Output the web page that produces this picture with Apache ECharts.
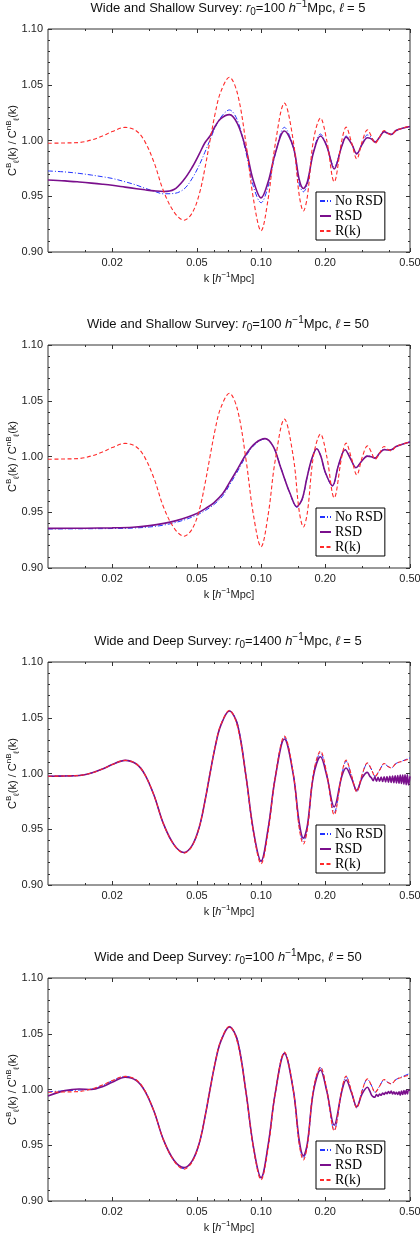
<!DOCTYPE html>
<html>
<head>
<meta charset="utf-8">
<script src="https://cdn.jsdelivr.net/npm/echarts@6/dist/echarts.min.js"></script>
<style>
  html, body { margin: 0; padding: 0; background: #fff; }
  #chart { width: 420px; height: 1236px; }
</style>
</head>
<body>
<div id="chart"></div>
<script>
// k grid shared by R(k) and most of the curves
const kBao = [
  0.0100, 0.0120, 0.0140, 0.0160, 0.0180, 0.0200, 0.0230, 0.0260, 0.0285, 0.0315,
  0.0348, 0.0390, 0.0435, 0.0475, 0.0513, 0.0545, 0.0576, 0.0610, 0.0645, 0.0710,
  0.0775, 0.0850, 0.0920, 0.1000, 0.1080, 0.1164, 0.1287, 0.1418, 0.1510, 0.1580,
  0.1650, 0.1760, 0.1900, 0.2034, 0.2204, 0.2393, 0.2506, 0.2660, 0.2813, 0.2980,
  0.3155, 0.3290, 0.3430, 0.3600, 0.3780, 0.3930, 0.4080, 0.4300, 0.4600, 0.5000
]

// R(k), same in every panel
const rRatio = [
  0.9975, 0.9978, 0.9982, 1.0005, 1.0040, 1.0080, 1.0118, 1.0085, 0.9990, 0.9800,
  0.9550, 0.9360, 0.9285, 0.9350, 0.9520, 0.9750, 1.0000, 1.0250, 1.0430, 1.0567,
  1.0420, 0.9970, 0.9480, 0.9190, 0.9480, 0.9960, 1.0335, 0.9990, 0.9510, 0.9368,
  0.9500, 1.0000, 1.0200, 1.0000, 0.9630, 1.0000, 1.0120, 0.9980, 0.9835, 0.9990,
  1.0095, 1.0040, 0.9975, 1.0030, 1.0090, 1.0065, 1.0050, 1.0090, 1.0110, 1.0130
]

// panel 1: wide and shallow, l = 5
const noRsd1 = [
  0.9727, 0.9718, 0.9705, 0.9690, 0.9675, 0.9660, 0.9630, 0.9600, 0.9572, 0.9545,
  0.9522, 0.9525, 0.9565, 0.9660, 0.9780, 0.9895, 1.0005, 1.0120, 1.0205, 1.0274,
  1.0180, 0.9890, 0.9590, 0.9442, 0.9590, 0.9870, 1.0118, 0.9930, 0.9610, 0.9540,
  0.9610, 0.9900, 1.0058, 0.9950, 0.9765, 0.9950, 1.0040, 0.9970, 0.9885, 0.9970,
  1.0050, 1.0030, 0.9990, 1.0030, 1.0080, 1.0065, 1.0055, 1.0090, 1.0110, 1.0125
]
const rsd1 = [
  0.9646, 0.9638, 0.9628, 0.9618, 0.9608, 0.9598, 0.9582, 0.9568, 0.9558, 0.9548,
  0.9542, 0.9560, 0.9650, 0.9760, 0.9880, 0.9980, 1.0040, 1.0130, 1.0195, 1.0232,
  1.0150, 0.9920, 0.9640, 0.9485, 0.9630, 0.9880, 1.0085, 0.9940, 0.9650, 0.9570,
  0.9630, 0.9890, 1.0040, 0.9950, 0.9745, 0.9950, 1.0030, 0.9970, 0.9880, 0.9965,
  1.0025, 1.0015, 0.9985, 1.0030, 1.0080, 1.0065, 1.0055, 1.0090, 1.0110, 1.0125
]

// panel 2: wide and shallow, l = 50
const k2 = [
  0.010, 0.015, 0.020, 0.025, 0.030, 0.035, 0.040, 0.045, 0.050, 0.055,
  0.060, 0.066, 0.0715, 0.078, 0.0855, 0.094, 0.1044, 0.1140, 0.1227, 0.1300,
  0.1367, 0.1470, 0.1560, 0.1638, 0.1730, 0.1826, 0.1910, 0.1998, 0.2163, 0.2307,
  0.2480, 0.2630, 0.2790, 0.2970, 0.3155, 0.3290, 0.3430, 0.3600, 0.3780, 0.3930,
  0.4080, 0.4300, 0.4600, 0.5000
]
const noRsd2 = [
  0.9350, 0.9352, 0.9354, 0.9358, 0.9368, 0.9385, 0.9410, 0.9440, 0.9475, 0.9518,
  0.9568, 0.9645, 0.9752, 0.9875, 1.0012, 1.0112, 1.0158, 1.0092, 0.9925, 0.9782,
  0.9668, 0.9545, 0.9615, 0.9798, 0.9980, 1.0072, 1.0000, 0.9860, 0.9735, 0.9920,
  1.0062, 0.9980, 0.9898, 0.9962, 1.0005, 1.0000, 0.9985, 1.0032, 1.0064, 1.0058,
  1.0060, 1.0090, 1.0110, 1.0132
]
const rsd2 = [
  0.9355, 0.9357, 0.9360, 0.9366, 0.9380, 0.9400, 0.9425, 0.9455, 0.9490, 0.9535,
  0.9585, 0.9665, 0.9774, 0.9895, 1.0027, 1.0120, 1.0160, 1.0090, 0.9920, 0.9780,
  0.9670, 0.9550, 0.9620, 0.9800, 0.9980, 1.0070, 1.0000, 0.9863, 0.9738, 0.9920,
  1.0060, 0.9980, 0.9900, 0.9960, 1.0003, 0.9998, 0.9985, 1.0030, 1.0062, 1.0058,
  1.0060, 1.0090, 1.0110, 1.0130
]

// k grid for the RSD curves of the deep surveys (denser where they wiggle)
const kNoisy = [
  0.0100, 0.0120, 0.0140, 0.0160, 0.0180, 0.0200, 0.0230, 0.0260, 0.0285, 0.0315,
  0.0348, 0.0390, 0.0435, 0.0475, 0.0513, 0.0545, 0.0576, 0.0610, 0.0645, 0.0710,
  0.0775, 0.0850, 0.0920, 0.1000, 0.1080, 0.1164, 0.1287, 0.1418, 0.1510, 0.1580,
  0.1650, 0.1760, 0.1900, 0.2034, 0.2204, 0.2393, 0.2506, 0.2660, 0.2813, 0.2980,
  0.3155, 0.3240, 0.330, 0.336, 0.342, 0.348, 0.354, 0.360, 0.366, 0.372,
  0.378, 0.384, 0.390, 0.396, 0.402, 0.408, 0.414, 0.420, 0.426, 0.432,
  0.438, 0.444, 0.450, 0.456, 0.462, 0.468, 0.474, 0.480, 0.486, 0.492,
  0.500
]

// panel 3: wide and deep, r0 = 1400, l = 5
const noRsd3 = [
  0.9975, 0.9978, 0.9982, 1.0005, 1.0040, 1.0080, 1.0118, 1.0085, 0.9990, 0.9800,
  0.9550, 0.9362, 0.9290, 0.9355, 0.9520, 0.9750, 1.0000, 1.0245, 1.0425, 1.0562,
  1.0445, 0.9970, 0.9480, 0.9210, 0.9500, 0.9960, 1.0325, 0.9990, 0.9530, 0.9390,
  0.9510, 0.9990, 1.0185, 0.9990, 0.9650, 0.9990, 1.0110, 0.9975, 0.9835, 0.9985,
  1.0090, 1.0040, 0.9975, 1.0030, 1.0088, 1.0065, 1.0050, 1.0090, 1.0112, 1.0140
]
const rsd3 = [
  0.9975, 0.9978, 0.9982, 1.0005, 1.0040, 1.0080, 1.0118, 1.0085, 0.9990, 0.9800,
  0.9550, 0.9362, 0.9292, 0.9355, 0.9520, 0.9750, 1.0000, 1.0245, 1.0425, 1.0560,
  1.0440, 0.9975, 0.9490, 0.9215, 0.9510, 0.9955, 1.0310, 0.9985, 0.9560, 0.9420,
  0.9535, 0.9975, 1.0150, 0.9980, 0.9700, 0.9975, 1.0050, 0.9955, 0.9850, 0.9960,
  1.0010, 0.9975, 0.9960, 0.9935, 0.9970, 0.9930, 0.9965, 0.9930, 0.9968, 0.9928,
  0.9970, 0.9925, 0.9972, 0.9922, 0.9975, 0.9920, 0.9978, 0.9918, 0.9980, 0.9915,
  0.9982, 0.9912, 0.9985, 0.9910, 0.9985, 0.9905, 0.9988, 0.9900, 0.9988, 0.9898,
  0.9975
]

// panel 4: wide and deep, r0 = 100, l = 50
const noRsd4 = [
  0.9980, 0.9988, 0.9995, 1.0003, 1.0035, 1.0078, 1.0118, 1.0085, 0.9990, 0.9800,
  0.9550, 0.9362, 0.9290, 0.9355, 0.9520, 0.9750, 1.0000, 1.0245, 1.0425, 1.0562,
  1.0445, 0.9970, 0.9482, 0.9205, 0.9495, 0.9960, 1.0330, 0.9990, 0.9520, 0.9385,
  0.9505, 0.9990, 1.0195, 0.9990, 0.9640, 0.9990, 1.0115, 0.9975, 0.9835, 0.9988,
  1.0092, 1.0040, 0.9975, 1.0030, 1.0088, 1.0065, 1.0052, 1.0090, 1.0115, 1.0145
]
const rsd4 = [
  0.9942, 0.9990, 1.0004, 1.0000, 1.0025, 1.0065, 1.0110, 1.0080, 0.9985, 0.9800,
  0.9550, 0.9365, 0.9300, 0.9360, 0.9520, 0.9750, 1.0000, 1.0245, 1.0425, 1.0562,
  1.0440, 0.9975, 0.9490, 0.9210, 0.9505, 0.9960, 1.0324, 0.9990, 0.9545, 0.9405,
  0.9520, 0.9980, 1.0175, 0.9985, 0.9680, 0.9985, 1.0085, 0.9970, 0.9846, 0.9960,
  1.0020, 0.9985, 0.9950, 0.9935, 0.9930, 0.9955, 0.9940, 0.9960, 0.9948, 0.9968,
  0.9955, 0.9975, 0.9962, 0.9982, 0.9965, 0.9985, 0.9960, 0.9980, 0.9958, 0.9975,
  0.9955, 0.9980, 0.9950, 0.9985, 0.9955, 0.9990, 0.9958, 0.9992, 0.9960, 0.9995,
  0.9990
]

const titles = [
  'Wide and Shallow Survey: {i|r}{sub|0}=100 {i|h}{sup|−1}Mpc, {i|ℓ} = 5',
  'Wide and Shallow Survey: {i|r}{sub|0}=100 {i|h}{sup|−1}Mpc, {i|ℓ} = 50',
  'Wide and Deep Survey: {i|r}{sub|0}=1400 {i|h}{sup|−1}Mpc, {i|ℓ} = 5',
  'Wide and Deep Survey: {i|r}{sub|0}=100 {i|h}{sup|−1}Mpc, {i|ℓ} = 50'
]
const majorTicks = [0.02, 0.05, 0.1, 0.2, 0.5]
const minorTicks = [0.015, 0.03, 0.04, 0.06, 0.07, 0.08, 0.09, 0.15, 0.3, 0.4]
const seriesNames = ['No RSD', 'RSD', 'R(k)']

const panels = [
  [[kBao, noRsd1], [kBao, rsd1], [kBao, rRatio]],
  [[k2, noRsd2], [k2, rsd2], [kBao, rRatio]],
  [[kBao, noRsd3], [kNoisy, rsd3], [kBao, rRatio]],
  [[kBao, noRsd4], [kNoisy, rsd4], [kBao, rRatio]]
]

const gridTops = [29, 345, 662, 978]
const gridLeft = 48, gridWidth = 362, gridHeight = 223

const lineStyles = [
  { color: '#2233ff', width: 1, type: [5, 2, 1, 2] },
  { color: '#7a0f8c', width: 1.6, type: 'solid' },
  { color: '#ff2a2a', width: 1.1, type: [4, 2.5] }
]

const sansFont = 'Liberation Sans'
const richSmall = (size) => ({
  i: { fontStyle: 'italic', fontSize: size, fontFamily: sansFont, color: '#111' },
  sub: { fontSize: size - 3, lineHeight: 9, verticalAlign: 'bottom', fontFamily: sansFont, color: '#111' },
  sup: { fontSize: size - 3, lineHeight: 9, verticalAlign: 'top', fontFamily: sansFont, color: '#111' }
})

const log = Math.log10
const pts = (ks, ys) => ks.map((k, i) => [log(k), ys[i]])

let grid = [], xAxis = [], yAxis = [], series = [], title = [], legend = []

gridTops.forEach((top, p) => {
  grid.push({
    left: gridLeft, top: top, width: gridWidth, height: gridHeight,
    containLabel: false, outerBoundsMode: 'none',
    show: true, borderColor: '#333', borderWidth: 1, backgroundColor: 'transparent'
  })

  title.push({
    text: titles[p],
    left: gridLeft + gridWidth / 2 - 1, top: top - 30, textAlign: 'center', padding: 0,
    textStyle: {
      fontFamily: sansFont, fontSize: 13, fontWeight: 'normal', color: '#111', lineHeight: 18,
      rich: richSmall(13)
    }
  })

  // x axes: bottom major, bottom minor, top major, top minor
  const base = {
    type: 'value', gridIndex: p, min: -2, max: log(0.5),
    axisLine: { show: false }, splitLine: { show: false }
  }
  xAxis.push(Object.assign({}, base, {
    position: 'bottom',
    name: 'k [{i|h}{sup|−1}Mpc]', nameLocation: 'middle', nameGap: 19, nameMoveOverlap: false,
    nameTextStyle: { fontFamily: sansFont, fontSize: 11, color: '#222', lineHeight: 16, rich: richSmall(11) },
    axisTick: { inside: true, length: 4, customValues: majorTicks.map(log), lineStyle: { color: '#333' } },
    axisLabel: {
      customValues: majorTicks.map(log), margin: 5,
      fontFamily: sansFont, fontSize: 11, color: '#222',
      formatter: v => Math.pow(10, v).toFixed(2)
    }
  }))
  xAxis.push(Object.assign({}, base, {
    position: 'bottom',
    axisTick: { inside: true, length: 2, customValues: minorTicks.map(log), lineStyle: { color: '#333' } },
    axisLabel: { show: false }
  }))
  xAxis.push(Object.assign({}, base, {
    position: 'top',
    axisTick: { inside: true, length: 4, customValues: majorTicks.map(log), lineStyle: { color: '#333' } },
    axisLabel: { show: false }
  }))
  xAxis.push(Object.assign({}, base, {
    position: 'top',
    axisTick: { inside: true, length: 2, customValues: minorTicks.map(log), lineStyle: { color: '#333' } },
    axisLabel: { show: false }
  }))

  const ybase = {
    type: 'value', gridIndex: p, min: 0.9, max: 1.1, interval: 0.05,
    axisLine: { show: false }, splitLine: { show: false },
    axisTick: { inside: true, length: 4, lineStyle: { color: '#333' } },
    minorTick: { show: true, splitNumber: 5, length: 2, lineStyle: { color: '#333' } },
    minorSplitLine: { show: false }
  }
  yAxis.push(Object.assign({}, ybase, {
    position: 'left',
    name: 'C{sup|B}{sub|ℓ}(k) / C{sup|nB}{sub|ℓ}(k)', nameLocation: 'middle', nameGap: 27,
    nameMoveOverlap: false,
    nameTextStyle: { fontFamily: sansFont, fontSize: 11, color: '#111', lineHeight: 16, rich: richSmall(11) },
    axisLabel: { margin: 5, fontFamily: sansFont, fontSize: 11, color: '#222', formatter: v => v.toFixed(2) }
  }))
  yAxis.push(Object.assign({}, ybase, {
    position: 'right',
    axisLabel: { show: false }
  }))

  panels[p].forEach((pair, s) => {
    series.push({
      name: seriesNames[s], type: 'line',
      xAxisIndex: p * 4, yAxisIndex: p * 2,
      data: pts(pair[0], pair[1]),
      smooth: 0.35, showSymbol: false, symbol: 'none',
      lineStyle: lineStyles[s], itemStyle: { color: lineStyles[s].color },
      animation: false
    })
  })

  legend.push({
    data: seriesNames,
    orient: 'vertical',
    left: 316, top: top + 163,
    itemWidth: 11, itemHeight: 10, itemGap: 1,
    padding: [2, 2, 2, 3],
    borderColor: '#000', borderWidth: 1, backgroundColor: '#fff',
    selectedMode: false,
    itemStyle: { color: 'rgba(0,0,0,0)', borderWidth: 0, opacity: 0 },
    textStyle: { fontFamily: 'Liberation Serif', fontSize: 14, color: '#000', padding: [0, 0, 0, -1] }
  })
})

const myChart = echarts.init(document.getElementById('chart'), null, { renderer: 'canvas' })
myChart.setOption({
  animation: false,
  backgroundColor: '#fff',
  title: title,
  legend: legend,
  grid: grid,
  xAxis: xAxis,
  yAxis: yAxis,
  series: series
})
</script>
</body>
</html>
